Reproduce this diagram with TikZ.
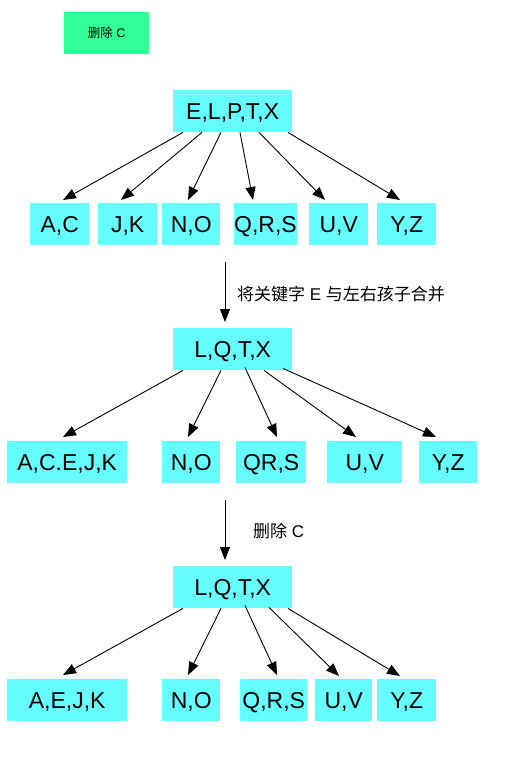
\documentclass[tikz,border=0pt]{standalone}
\usepackage{fontspec}
\setmainfont{Liberation Sans}
\newfontfamily\cjk{Noto Sans CJK SC}
\usetikzlibrary{arrows.meta}
\definecolor{boxcyan}{HTML}{66FFFF}
\definecolor{boxgreen}{HTML}{33FF99}
\begin{document}
\begin{tikzpicture}[x=1pt,y=-1pt,
  box/.style={rectangle,fill=boxcyan,draw=none,inner sep=0pt,anchor=north west,
    minimum height=42pt,text depth=0pt,font=\fontsize{23}{27}\selectfont},
  arr/.style={draw=black,line width=0.9pt,-{Triangle[length=13pt,width=10pt]}},
  lbl/.style={anchor=west,inner sep=0pt,font=\fontsize{17}{20}\selectfont}]
\useasboundingbox[fill=white] (0,0) rectangle (523,760);

% legend box
\node[rectangle,fill=boxgreen,inner sep=0pt,anchor=north west,minimum width=85pt,minimum height=42pt,
  font=\fontsize{12.5}{15}\selectfont] (del) at (64,12) {{\cjk 删除} C};

% stage 1
\node[box,minimum width=119pt] (r1) at (173,90) {E,L,P,T,X};
\node[box,minimum width=59pt] (a1) at (30,203) {A,C};
\node[box,minimum width=59pt] (b1) at (98,203) {J,K};
\node[box,minimum width=58pt] (c1) at (162,203) {N,O};
\node[box,minimum width=58pt] (d1) at (234,203) {Q,R,S};
\node[box,minimum width=59pt] (e1) at (309,203) {U,V};
\node[box,minimum width=59pt] (f1) at (377,203) {Y,Z};

\draw[arr] ([xshift=10pt]r1.south west) -- ([xshift=33pt,yshift=3pt]a1.north west);
\draw[arr] ([xshift=29pt]r1.south west) -- ([xshift=23pt,yshift=3pt]b1.north west);
\draw[arr] ([xshift=48pt]r1.south west) -- ([xshift=26pt,yshift=3pt]c1.north west);
\draw[arr] ([xshift=67pt]r1.south west) -- ([xshift=19pt,yshift=3pt]d1.north west);
\draw[arr] ([xshift=86pt]r1.south west) -- ([xshift=16pt,yshift=3pt]e1.north west);
\draw[arr] ([xshift=115pt]r1.south west) -- ([xshift=23pt,yshift=3pt]f1.north west);

% transition 1
\coordinate (s1) at (225,262);
\node[box,minimum width=119pt] (r2) at (173,328) {L,Q,T,X};
\draw[arr] (s1) -- ([xshift=52pt,yshift=6pt]r2.north west);
\node[lbl] (t1) at (237,294) {{\cjk 将关键字} E {\cjk 与左右孩子合并}};

% stage 2
\node[box,minimum width=120pt] (a2) at (7,441) {A,C.E,J,K};
\node[box,minimum width=58pt] (c2) at (162,441) {N,O};
\node[box,minimum width=70pt] (d2) at (236,441) {QR,S};
\node[box,minimum width=75pt] (e2) at (327,441) {U,V};
\node[box,minimum width=58pt] (f2) at (419,441) {Y,Z};

\draw[arr] ([xshift=10pt]r2.south west) -- ([xshift=56pt,yshift=4pt]a2.north west);
\draw[arr] ([xshift=48pt]r2.south west) -- ([xshift=26pt,yshift=4pt]c2.north west);
\draw[arr] ([xshift=72pt,yshift=3pt]r2.south west) -- ([xshift=41pt,yshift=4pt]d2.north west);
\draw[arr] ([xshift=91pt]r2.south west) -- ([xshift=29pt,yshift=4pt]e2.north west);
\draw[arr] ([xshift=110pt,yshift=2pt]r2.south west) -- ([xshift=17pt,yshift=4pt]f2.north west);

% transition 2
\coordinate (s2) at (225,500);
\node[box,minimum width=119pt] (r3) at (173,566) {L,Q,T,X};
\draw[arr] (s2) -- ([xshift=52pt,yshift=6pt]r3.north west);
\node[lbl] (t2) at (253,531) {{\cjk 删除} C};

% stage 3
\node[box,minimum width=120pt] (a3) at (7,679) {A,E,J,K};
\node[box,minimum width=58pt] (c3) at (162,679) {N,O};
\node[box,minimum width=67pt] (d3) at (240,679) {Q,R,S};
\node[box,minimum width=57pt] (e3) at (315,679) {U,V};
\node[box,minimum width=59pt] (f3) at (377,679) {Y,Z};

\draw[arr] ([xshift=10pt]r3.south west) -- ([xshift=56pt,yshift=4pt]a3.north west);
\draw[arr] ([xshift=48pt]r3.south west) -- ([xshift=26pt,yshift=4pt]c3.north west);
\draw[arr] ([xshift=72pt,yshift=3pt]r3.south west) -- ([xshift=37pt,yshift=4pt]d3.north west);
\draw[arr] ([xshift=96pt,yshift=1pt]r3.south west) -- ([xshift=24pt,yshift=3pt]e3.north west);
\draw[arr] ([xshift=115pt]r3.south west) -- ([xshift=23pt,yshift=3pt]f3.north west);
\end{tikzpicture}
\end{document}
